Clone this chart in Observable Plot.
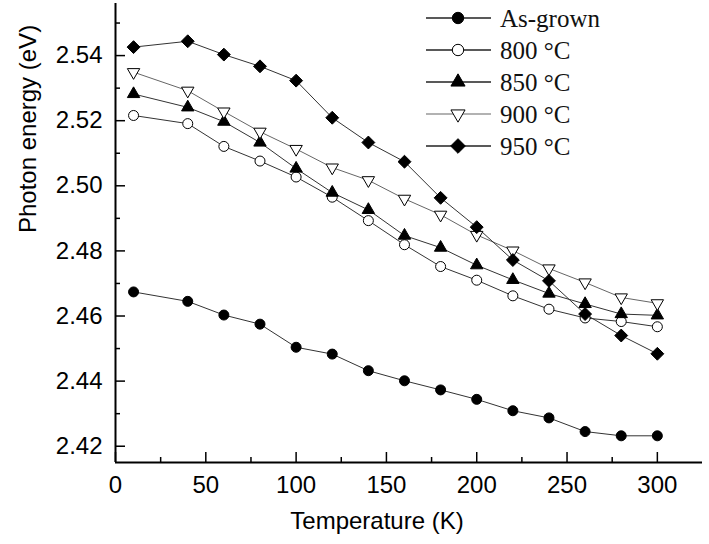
<!DOCTYPE html>
<html><head><meta charset="utf-8">
<script src="https://cdn.jsdelivr.net/npm/d3@7"></script>
<script src="https://cdn.jsdelivr.net/npm/@observablehq/plot@0.6"></script>
<style>
body{margin:0;background:#fff;}
#wrap{position:relative;width:709px;height:544px;}
#wrap svg.legend{position:absolute;left:0;top:0;pointer-events:none;}
</style></head><body><div id="wrap"></div>
<script>
// ---- data ----
const temperatures = [10, 40, 60, 80, 100, 120, 140, 160, 180, 200, 220, 240, 260, 280, 300];
const seriesNames = ["As-grown", "800 °C", "850 °C", "900 °C", "950 °C"];
const asGrown = [2.4674, 2.4645, 2.4603, 2.4575, 2.4504, 2.4483, 2.4432, 2.4401, 2.4373, 2.4344, 2.4309, 2.4287, 2.4245, 2.4232, 2.4232];
const annealed800 = [2.5216, 2.5191, 2.5121, 2.5076, 2.5027, 2.4965, 2.4893, 2.4819, 2.4752, 2.4710, 2.4662, 2.4621, 2.4594, 2.4583, 2.4567];
const annealed850 = [2.5282, 2.5241, 2.5197, 2.5133, 2.5053, 2.4979, 2.4926, 2.4847, 2.4810, 2.4756, 2.4711, 2.4669, 2.4637, 2.4606, 2.4602];
const annealed900 = [2.5349, 2.5292, 2.5228, 2.5166, 2.5113, 2.5056, 2.5017, 2.4960, 2.4911, 2.4849, 2.4801, 2.4746, 2.4703, 2.4657, 2.4639];
const annealed950 = [2.5426, 2.5444, 2.5403, 2.5367, 2.5323, 2.5209, 2.5133, 2.5074, 2.4963, 2.4873, 2.4772, 2.4708, 2.4606, 2.4540, 2.4484];
const xTicks = [0, 50, 100, 150, 200, 250, 300];
const xMinorTicks = [25, 75, 125, 175, 225, 275];
const yTicks = [2.42, 2.44, 2.46, 2.48, 2.50, 2.52, 2.54];
const yMinorTicks = [2.43, 2.45, 2.47, 2.49, 2.51, 2.53, 2.55];
const xDomain = [0, 325];
const yDomain = [2.415, 2.556];
const xTitle = "Temperature (K)";
const yTitle = "Photon energy (eV)";

// ---- styles ----
const triangleDown = {
  draw(ctx, size) {
    const y = -Math.sqrt(size / (Math.sqrt(3) * 3));
    ctx.moveTo(0, -2 * y);
    ctx.lineTo(-Math.sqrt(3) * y, y);
    ctx.lineTo(Math.sqrt(3) * y, y);
    ctx.closePath();
  }
};
const seriesValues = [asGrown, annealed800, annealed850, annealed900, annealed950];
const styles = [
  {symbol: d3.symbolCircle, fill: "#000", r: 5, line: "#333"},
  {symbol: d3.symbolCircle, fill: "#fff", r: 5, line: "#333"},
  {symbol: d3.symbolTriangle, fill: "#000", r: 4.6, line: "#333"},
  {symbol: triangleDown, fill: "#fff", r: 4.6, line: "#666"},
  {symbol: d3.symbolDiamond2, fill: "#000", r: 5.8, line: "#333"}
];

const rows = [];
seriesNames.forEach((s, i) => temperatures.forEach((t, j) => rows.push({series: s, T: t, E: seriesValues[i][j]})));

const lineMarks = seriesNames.map((s, i) =>
  Plot.line(rows.filter(d => d.series === s), {x: "T", y: "E", stroke: styles[i].line, strokeWidth: 1}));
const dotMarks = seriesNames.map((s, i) =>
  Plot.dot(rows.filter(d => d.series === s), {x: "T", y: "E", symbol: styles[i].symbol, r: styles[i].r,
    fill: styles[i].fill, stroke: "#000", strokeWidth: 1}));

const chart = Plot.plot({
  width: 709, height: 544,
  marginLeft: 115, marginRight: 7, marginTop: 3, marginBottom: 82,
  x: {domain: xDomain, label: null},
  y: {domain: yDomain, label: null},
  style: {fontFamily: "'Liberation Sans', Arial, sans-serif", fontSize: "24px", color: "#000", background: "#fff"},
  marks: [
    Plot.axisX(xTicks, {tickSize: 0, tickPadding: 13, label: null, fontSize: 24}),
    Plot.axisX(xTicks, {tickSize: -10, fill: "none", label: null, strokeWidth: 1.5}),
    Plot.axisX(xMinorTicks, {tickSize: -5, fill: "none", label: null, strokeWidth: 1.5}),
    Plot.axisY(yTicks, {tickSize: 0, tickPadding: 13, tickFormat: d3.format(".2f"), label: null, fontSize: 24}),
    Plot.axisY(yTicks, {tickSize: -10, fill: "none", label: null, strokeWidth: 1.5}),
    Plot.axisY(yMinorTicks, {tickSize: -5, fill: "none", label: null, strokeWidth: 1.5}),
    Plot.ruleX([xDomain[0]], {stroke: "#000", strokeWidth: 2}),
    Plot.ruleY([yDomain[0]], {stroke: "#000", strokeWidth: 2}),
    ...lineMarks,
    ...dotMarks,
    Plot.text([xTitle], {frameAnchor: "bottom", dx: -32, dy: 66, fontSize: 24}),
    Plot.text([yTitle], {frameAnchor: "left", dx: -87, rotate: -90, fontSize: 24})
  ]
});
const wrap = document.getElementById("wrap");
wrap.appendChild(chart);

// ---- legend (inside plot, upper right) ----
const lg = d3.select(wrap).append("svg").attr("class", "legend").attr("width", 709).attr("height", 544);
seriesNames.forEach((s, i) => {
  const y = 18 + i * 32;
  const g = lg.append("g");
  g.append("line").attr("x1", 426).attr("x2", 491).attr("y1", y).attr("y2", y)
    .attr("stroke", styles[i].line === "#666" ? "#999" : "#222").attr("stroke-width", 1.5);
  g.append("path").attr("transform", `translate(458,${y})`)
    .attr("d", d3.symbol(styles[i].symbol, Math.PI * styles[i].r * styles[i].r * 1.3)())
    .attr("fill", styles[i].fill).attr("stroke", "#000").attr("stroke-width", 1);
  g.append("text").attr("x", 500).attr("y", y).attr("dy", "0.35em")
    .attr("font-family", "'Liberation Serif', 'Times New Roman', serif").attr("font-size", 25)
    .attr("fill", "#111").text(s);
});
</script></body></html>
